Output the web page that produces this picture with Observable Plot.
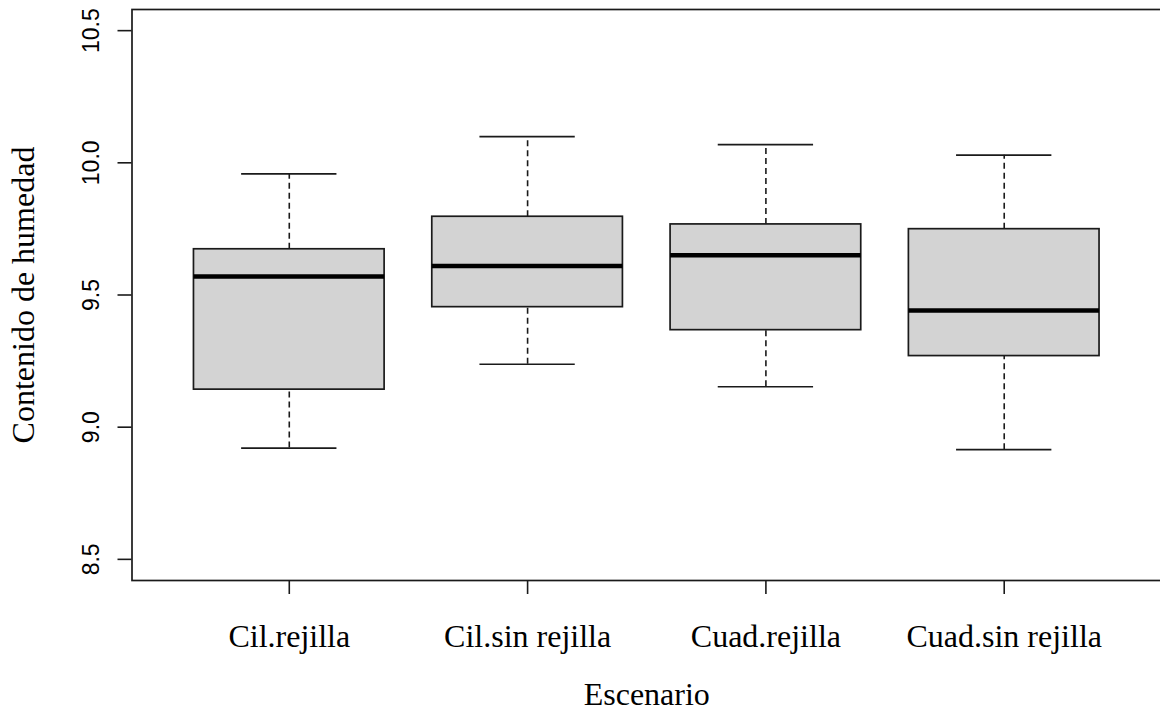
<!DOCTYPE html>
<html>
<head>
<meta charset="utf-8">
<script src="https://cdn.jsdelivr.net/npm/d3@7"></script>
<script src="https://cdn.jsdelivr.net/npm/@observablehq/plot@0.6"></script>
<style>
  html, body { margin: 0; padding: 0; background: #fff; }
  #chart svg { display: block; }
</style>
</head>
<body>
<div id="chart"></div>
<script>
// Data
const categories = ["Cil.rejilla", "Cil.sin rejilla", "Cuad.rejilla", "Cuad.sin rejilla"];
const whiskerLow  = [8.921, 9.238, 9.153, 8.915];
const q1          = [9.142, 9.454, 9.367, 9.269];
const median      = [9.570, 9.610, 9.650, 9.441];
const q3          = [9.673, 9.796, 9.767, 9.749];
const whiskerHigh = [9.958, 10.099, 10.069, 10.029];
const yTicks = [8.5, 9.0, 9.5, 10.0, 10.5];
const xLabel = "Escenario";
const yLabel = "Contenido de humedad";

const rows = categories.map((c, i) => ({
  cat: c, pos: i + 1,
  lo: whiskerLow[i], q1: q1[i], med: median[i], q3: q3[i], hi: whiskerHigh[i]
}));

const lineColor = "#1a1a1a";
const serif = "'Liberation Serif', 'Times New Roman', serif";
const sans = "'Liberation Sans', Arial, sans-serif";

const chart = Plot.plot({
  width: 1160,
  height: 713,
  marginLeft: 131.5,
  marginRight: -1,
  marginTop: 9,
  marginBottom: 133,
  style: { background: "#fff", overflow: "visible" },
  x: { domain: [0.34, 4.66], range: [131.5, 1161] },
  y: { domain: [8.42, 10.58], range: [580, 9] },
  marks: [
    // whiskers (dashed)
    Plot.ruleX(rows, { x: "pos", y1: "q3", y2: "hi", stroke: lineColor, strokeWidth: 1.6, strokeDasharray: "6,4" }),
    Plot.ruleX(rows, { x: "pos", y1: "lo", y2: "q1", stroke: lineColor, strokeWidth: 1.6, strokeDasharray: "6,4" }),
    // whisker caps
    Plot.ruleY(rows, { y: "hi", x1: d => d.pos - 0.2, x2: d => d.pos + 0.2, stroke: lineColor, strokeWidth: 1.7 }),
    Plot.ruleY(rows, { y: "lo", x1: d => d.pos - 0.2, x2: d => d.pos + 0.2, stroke: lineColor, strokeWidth: 1.7 }),
    // boxes
    Plot.rect(rows, { x1: d => d.pos - 0.4, x2: d => d.pos + 0.4, y1: "q1", y2: "q3", fill: "#d3d3d3", stroke: lineColor, strokeWidth: 1.7 }),
    // medians
    Plot.ruleY(rows, { y: "med", x1: d => d.pos - 0.4, x2: d => d.pos + 0.4, stroke: "#000", strokeWidth: 4.5 }),
    // frame
    Plot.frame({ stroke: lineColor, strokeWidth: 1.7 }),
    // x axis
    Plot.axisX({
      ticks: rows.map(d => d.pos), tickSize: 14, tickPadding: 30,
      tickFormat: p => categories[p - 1], fontSize: 32, fontFamily: serif,
      stroke: lineColor, strokeWidth: 1.6, fill: "#000", label: null
    }),
    // y axis ticks
    Plot.axisY({
      ticks: yTicks, tickSize: 14, tickFormat: () => "", stroke: lineColor, strokeWidth: 1.6, label: null
    }),
    // y tick labels (rotated like R's las=0)
    Plot.text(yTicks, {
      y: d => d, text: d => d.toFixed(1), frameAnchor: "left", dx: -33.5,
      rotate: -90, textAnchor: "middle", lineAnchor: "bottom",
      fontSize: 23, fontFamily: sans, fill: "#000"
    }),
    // axis titles
    Plot.text([xLabel], {
      text: d => d, frameAnchor: "bottom", dy: 124, lineAnchor: "bottom",
      fontSize: 32, fontFamily: serif, fill: "#000"
    }),
    Plot.text([yLabel], {
      text: d => d, frameAnchor: "left", dx: -98.5, rotate: -90,
      textAnchor: "middle", lineAnchor: "bottom",
      fontSize: 32, fontFamily: serif, fill: "#000"
    })
  ]
});

document.getElementById("chart").appendChild(chart);
</script>
</body>
</html>
